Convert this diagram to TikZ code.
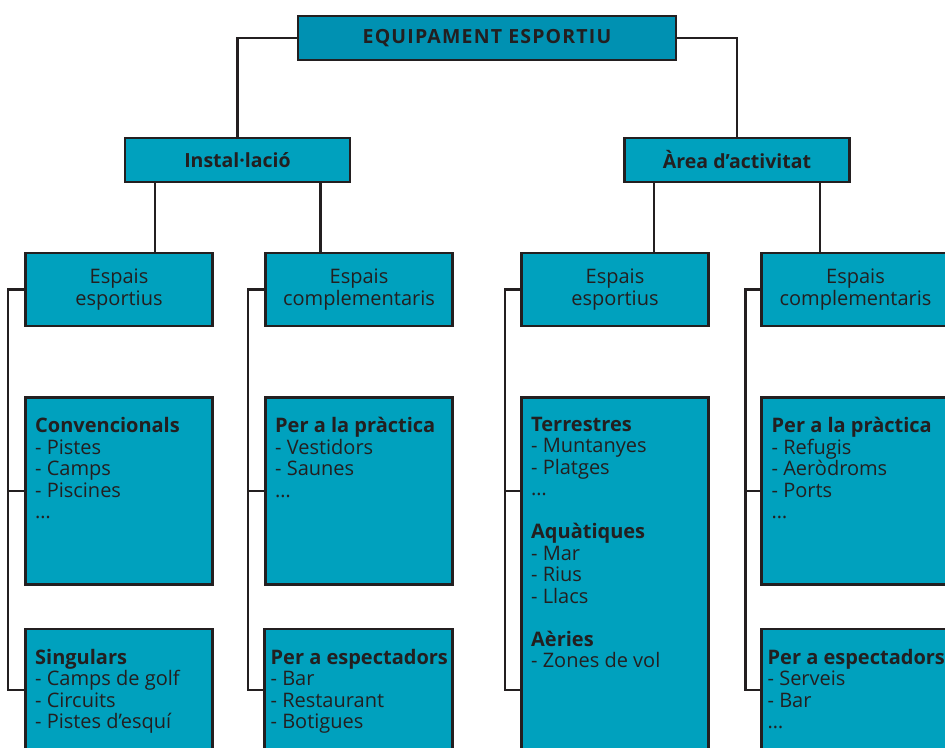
\documentclass[tikz,border=0pt]{standalone}
\usepackage{fontspec}
\setmainfont{Open Sans}
\usetikzlibrary{positioning}
\definecolor{topblue}{RGB}{0,145,178}
\definecolor{boxblue}{RGB}{0,161,190}
\definecolor{ink}{RGB}{35,31,32}
\newcommand\bodysize{\fontsize{20}{21.5}\selectfont}
\newcommand\headsize{\fontsize{19.5}{22}\selectfont\bfseries}
\newcommand\capssize{\fontsize{19.5}{22}\selectfont\bfseries\addfontfeatures{LetterSpace = 6}}
\tikzset {
    box/.style = {draw = ink, line width = 2.6pt, fill = boxblue, inner sep = 0pt, text = ink, align = center},
    top box/.style = {box, fill = topblue, minimum width = 378pt, minimum height = 44pt, font = \capssize},
    head box/.style = {box, minimum width = 225pt, minimum height = 44pt, font = \headsize},
    group box/.style = {box, minimum width = 187.5pt, minimum height = 73pt, font = \bodysize},
    list box/.style = {box, minimum width = 187.5pt, minimum height = 187pt},
    low box/.style = {list box, minimum height = 122pt},
    list/.style = {anchor = north west, align = left, inner sep = 0pt, text = ink, font = \bodysize},
    link/.style = {draw = ink, line width = 2.4pt}
}
\begin{document}
\begin{tikzpicture}[x = 1pt, y = -1pt]
    \useasboundingbox (0, 0) rectangle (945, 747);
    \clip (0, 0) rectangle (945, 747);
    % levels 1 and 2
    \node (top) [top box] at (487, 38) {EQUIPAMENT ESPORTIU};
    \node (inst) [head box] at (237.5, 160) {Instal·lació};
    \node (area) [head box] at (737, 160) {Àrea d’activitat};
    % level 3
    \node (ee1) [group box] at (119, 289.5) {Espais\\esportius};
    \node (ec1) [group box] at (359, 289.5) {Espais\\complementaris};
    \node (ee2) [group box] at (615, 289.5) {Espais\\esportius};
    \node (ec2) [group box] at (855.5, 289.5) {Espais\\complementaris};
    % level 4
    \node (conv) [list box] at (119, 491) {};
    \node (sing) [low box] at (119, 690) {};
    \node (prac1) [list box] at (359, 491) {};
    \node (esp1) [low box] at (358.5, 690) {};
    \node (terr) [list box, minimum height = 400pt] at (615, 597.3) {};
    \node (prac2) [list box] at (855.5, 491) {};
    \node (esp2) [low box] at (855.5, 690) {};
    % texts
    \node (conv text) [list, below right = 21pt and 11pt of conv.north west]
        {\textbf{Convencionals}\\- Pistes\\- Camps\\- Piscines\\\dots};
    \node (sing text) [list, below right = 21pt and 11pt of sing.north west]
        {\textbf{Singulars}\\- Camps de golf\\- Circuits\\- Pistes d’esquí};
    \node (prac1 text) [list, below right = 21pt and 11pt of prac1.north west]
        {\textbf{Per a la pràctica}\\- Vestidors\\- Saunes\\\dots};
    \node (esp1 text) [list, below right = 21pt and 7pt of esp1.north west]
        {\textbf{Per a espectadors}\\- Bar\\- Restaurant\\- Botigues};
    \node (terr text) [list, below right = 21pt and 11pt of terr.north west]
        {\textbf{Terrestres}\\- Muntanyes\\- Platges\\\dots\\[21.5pt]
         \textbf{Aquàtiques}\\- Mar\\- Rius\\- Llacs\\[21.5pt]
         \textbf{Aèries}\\- Zones de vol};
    \node (prac2 text) [list, below right = 21pt and 11pt of prac2.north west]
        {\textbf{Per a la pràctica}\\- Refugis\\- Aeròdroms\\- Ports\\\dots};
    \node (esp2 text) [list, below right = 21pt and 7pt of esp2.north west]
        {\textbf{Per a espectadors}\\- Serveis\\- Bar\\\dots};
    % connectors
    \draw [link] (top.west) -| (inst.north);
    \draw [link] (top.east) -| (area.north);
    \coordinate (inst l) at ([xshift = 31pt] inst.south west);
    \coordinate (inst r) at ([xshift = -31pt] inst.south east);
    \coordinate (area l) at ([xshift = 31pt] area.south west);
    \coordinate (area r) at ([xshift = -31pt] area.south east);
    \draw [link] (inst l) -- (inst l |- ee1.north);
    \draw [link] (inst r) -- (inst r |- ec1.north);
    \draw [link] (area l) -- (area l |- ee2.north);
    \draw [link] (area r) -- (area r |- ec2.north);
    \draw [link] (ee1.west) -- ++(-16, 0) coordinate (ee1 bus) |- (sing.west);
    \draw [link] (ee1 bus |- conv.west) -- (conv.west);
    \draw [link] (ec1.west) -- ++(-16, 0) coordinate (ec1 bus) |- (esp1.west);
    \draw [link] (ec1 bus |- prac1.west) -- (prac1.west);
    \draw [link] (ee2.west) -- ++(-15, 0) coordinate (ee2 bus) |- (terr.west |- sing.west);
    \draw [link] (ee2 bus |- conv.west) -- (terr.west |- conv.west);
    \draw [link] (ec2.west) -- ++(-15, 0) coordinate (ec2 bus) |- (esp2.west);
    \draw [link] (ec2 bus |- prac2.west) -- (prac2.west);
\end{tikzpicture}
\end{document}
